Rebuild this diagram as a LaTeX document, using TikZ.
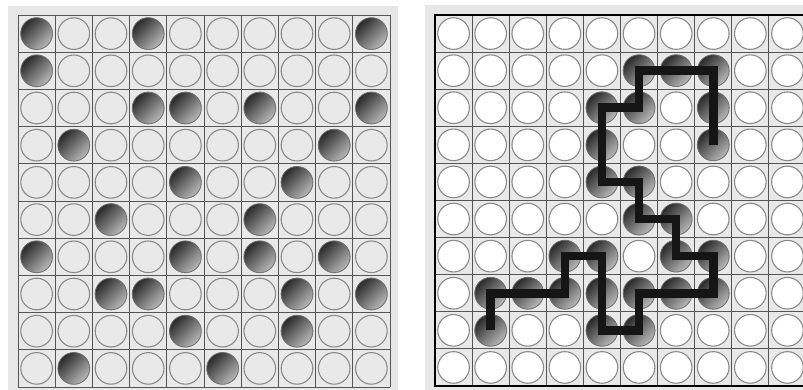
\documentclass[tikz,border=0pt]{standalone}
\usetikzlibrary{calc}
\definecolor{panel}{HTML}{E7E7E7}
\definecolor{cellbg}{HTML}{E9E9E9}
\definecolor{gridline}{HTML}{555555}
\definecolor{ring}{HTML}{8A8A8A}
\definecolor{balldark}{HTML}{2A2A2A}
\definecolor{balllight}{HTML}{B8B8B8}
\definecolor{pathcol}{HTML}{151515}
\tikzset{
  lcirc/.style={circle, draw=ring, line width=1.1pt, fill=cellbg, minimum size=31.6pt, inner sep=0pt},
  rcirc/.style={circle, draw=ring, line width=1.1pt, fill=white, minimum size=31.6pt, inner sep=0pt},
  ball/.style={circle, draw=ring!80!black, line width=0.6pt, minimum size=31.6pt, inner sep=0pt,
    top color=balldark, bottom color=balllight, shading angle=45},
  gridln/.style={draw=gridline, line width=0.9pt},
  route/.style={draw=pathcol, line width=8.5pt, line join=miter, line cap=butt}
}
\begin{document}
\begin{tikzpicture}[x=1pt,y=-1pt]
\useasboundingbox (0,0) rectangle (803,390);
\clip (0,0) rectangle (803,390);
\fill[white] (0,0) rectangle (803,390);
% panels
\fill[panel] (8,6) rectangle (398,392);
\fill[panel] (425,5) rectangle (805,392);
% left grid
\fill[cellbg] (18,15) rectangle (390,387);
\foreach \i in {0,...,10} {
  \draw[gridln] ({18+37.2*\i},15) -- ({18+37.2*\i},387);
  \draw[gridln] (18,{15+37.2*\i}) -- (390,{15+37.2*\i});
}
\foreach \r in {0,...,9} \foreach \c in {0,...,9}
  \node[lcirc] (L-\r-\c) at ({18+18.6+37.2*\c},{15+18.6+37.2*\r}) {};
\foreach \r/\c in {0/0,0/3,0/9,1/0,2/3,2/4,2/6,2/9,3/1,3/8,4/4,4/7,5/2,5/6,6/0,6/4,6/6,6/8,7/2,7/3,7/7,7/9,8/4,8/7,9/1,9/5}
  \node[ball] (LB-\r-\c) at (L-\r-\c) {};
% right grid
\fill[cellbg] (435,15) rectangle (806,386);
\foreach \i in {0,...,10} {
  \draw[gridln] ({435+37.1*\i},15) -- ({435+37.1*\i},386);
  \draw[gridln] (435,{15+37.1*\i}) -- (806,{15+37.1*\i});
}
\foreach \r in {0,...,9} \foreach \c in {0,...,9}
  \node[rcirc] (R-\r-\c) at ({435+18.55+37.1*\c},{15+18.55+37.1*\r}) {};
\foreach \r/\c in {1/5,1/6,1/7,2/4,2/5,2/7,3/4,3/7,4/4,4/5,5/5,5/6,6/3,6/4,6/6,6/7,7/1,7/2,7/3,7/4,7/5,7/6,7/7,8/1,8/4,8/5}
  \node[ball] (RB-\r-\c) at (R-\r-\c) {};
\draw[black, line width=2.2pt] (435,15) rectangle (806,386);
% route
\draw[route] (R-8-1.center) -- (R-7-1.center) -- (R-7-3.center) -- (R-6-3.center) -- (R-6-4.center)
  -- (R-8-4.center) -- (R-8-5.center) -- (R-7-5.center) -- (R-7-7.center) -- (R-6-7.center)
  -- (R-6-6.center) -- (R-5-6.center) -- (R-5-5.center) -- (R-4-5.center) -- (R-4-4.center)
  -- (R-2-4.center) -- (R-2-5.center) -- (R-1-5.center) -- (R-1-7.center) -- (R-3-7.center);
\end{tikzpicture}
\end{document}
